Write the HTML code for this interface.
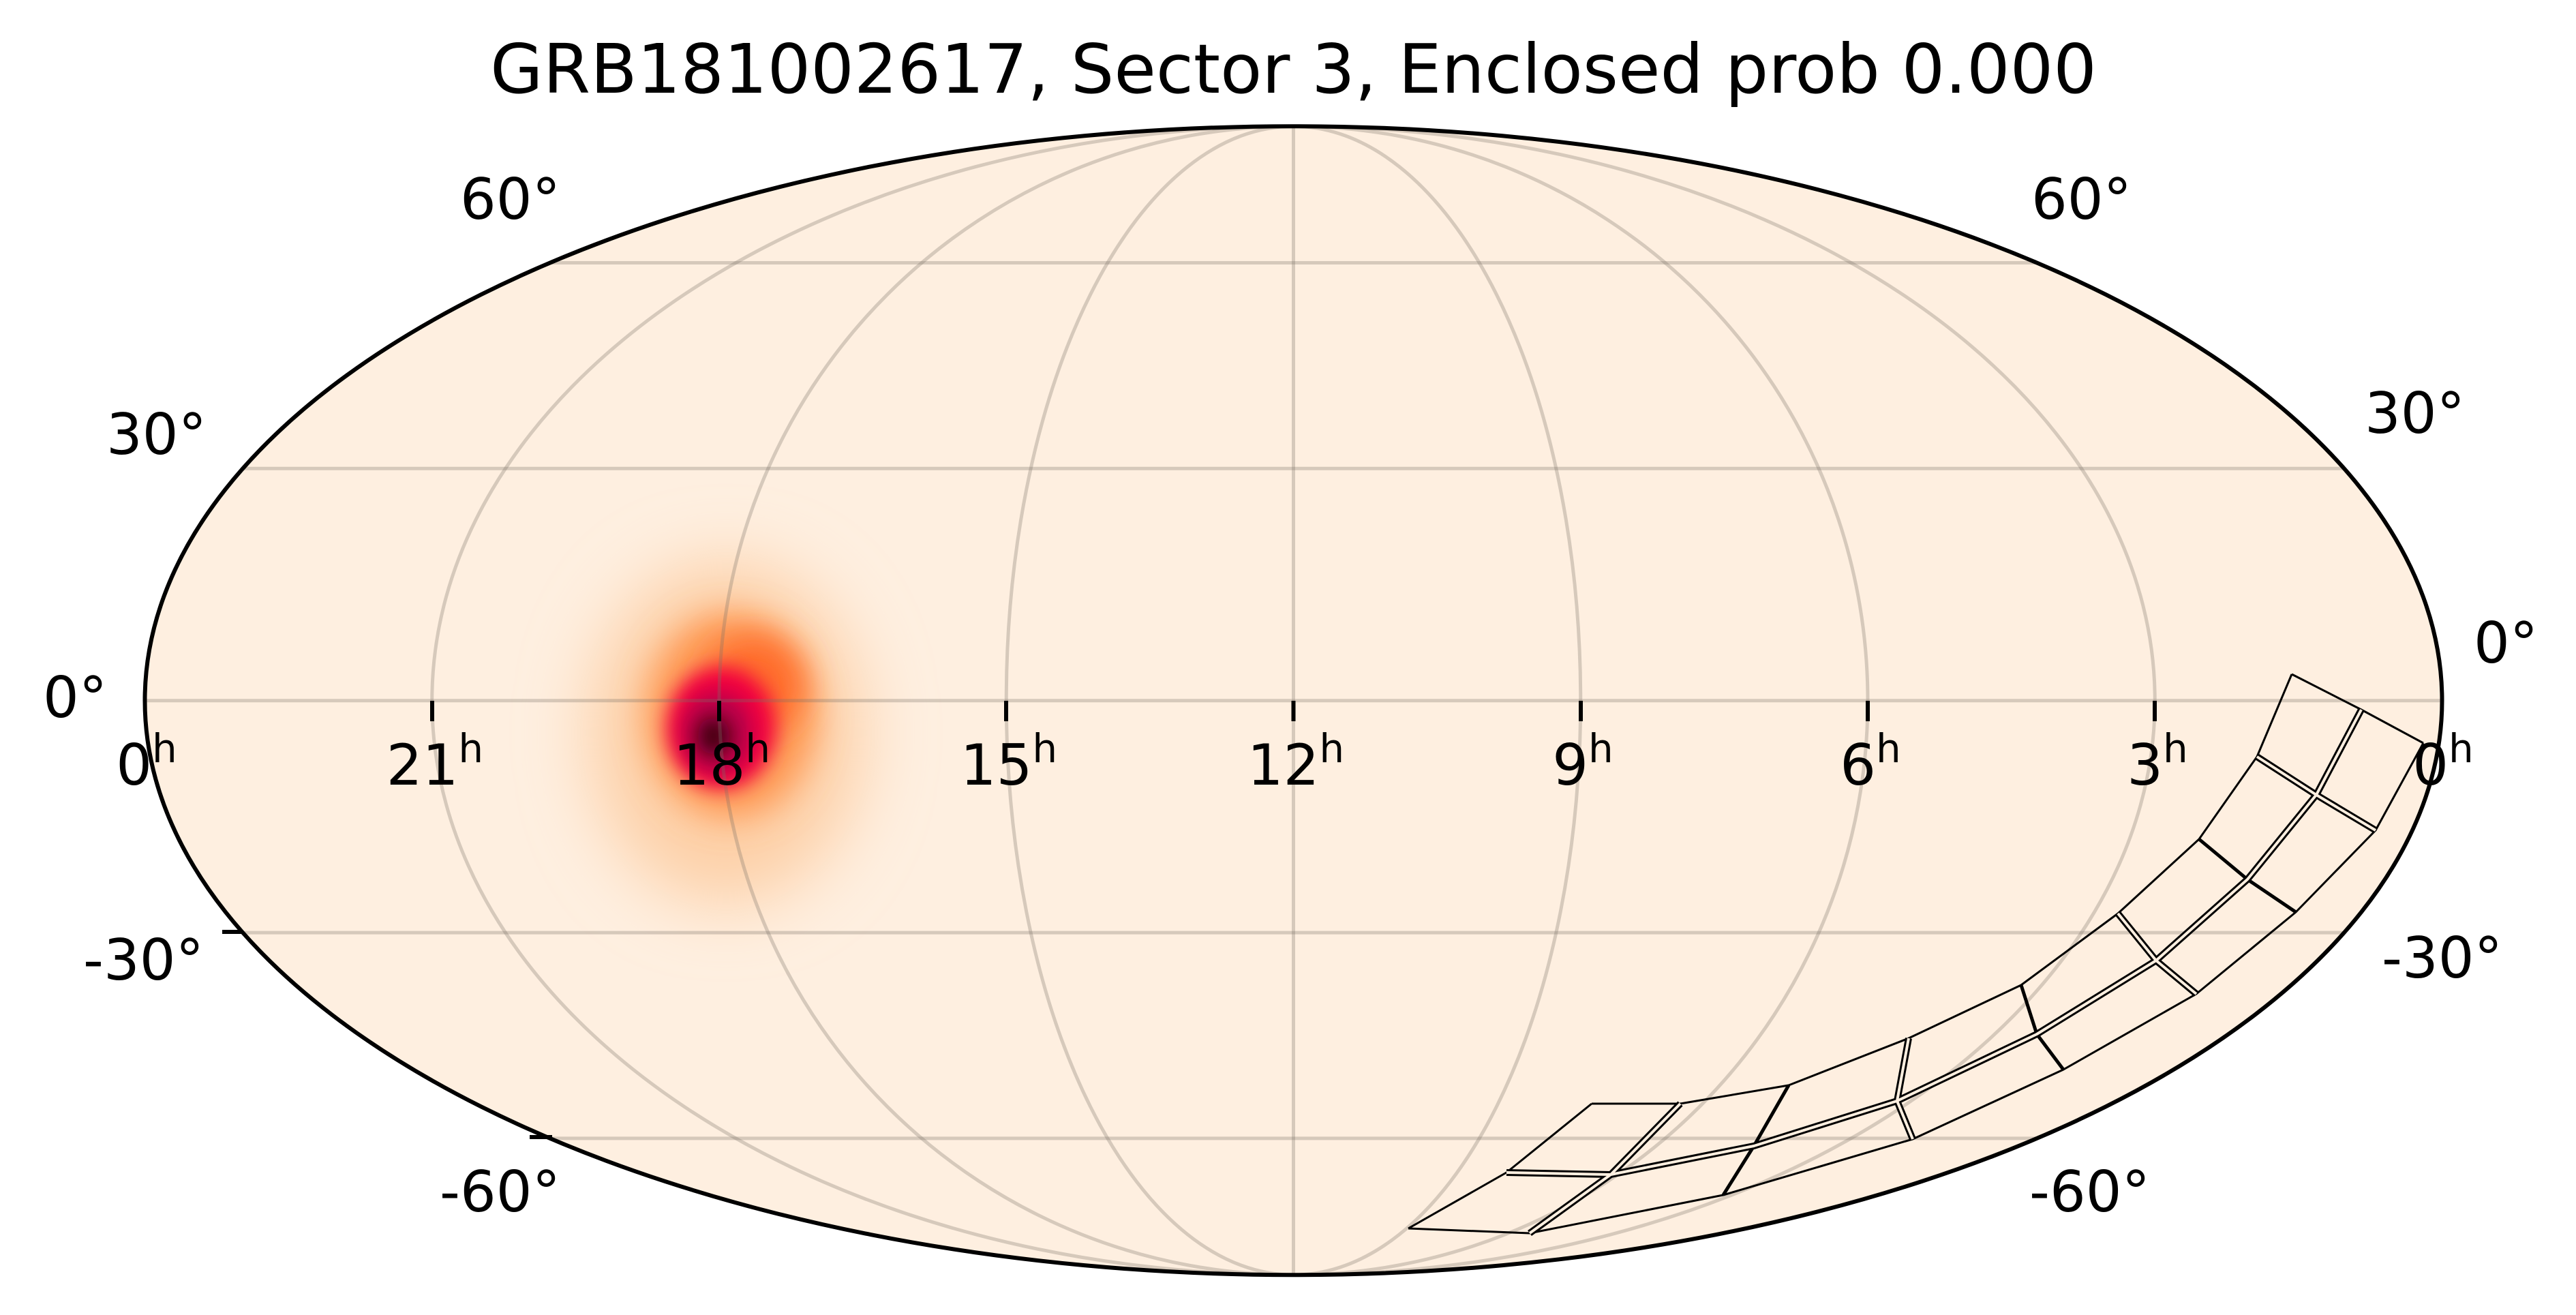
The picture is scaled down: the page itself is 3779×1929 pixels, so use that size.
<!DOCTYPE html>
<html><head><meta charset="utf-8"><style>
html,body{margin:0;padding:0;background:#fff;}
svg{display:block;}
text{font-family:"DejaVu Sans","Liberation Sans",sans-serif;fill:#000;}
</style></head><body>
<svg width="3779" height="1929" viewBox="0 0 3779 1929" xmlns="http://www.w3.org/2000/svg">
<defs>
<clipPath id="moll"><ellipse cx="1897.5" cy="1027.7" rx="1685" ry="842.5"/></clipPath>
<filter id="b1" x="-50%" y="-50%" width="200%" height="200%"><feGaussianBlur stdDeviation="50"/></filter>
<filter id="b2" x="-50%" y="-50%" width="200%" height="200%"><feGaussianBlur stdDeviation="24"/></filter>
<filter id="b3" x="-50%" y="-50%" width="200%" height="200%"><feGaussianBlur stdDeviation="14"/></filter>
</defs>
<ellipse cx="1897.5" cy="1027.7" rx="1685" ry="842.5" fill="#feefe0"/>
<g clip-path="url(#moll)">
  <ellipse cx="1065" cy="1075" rx="200" ry="250" fill="#fdcfa6" filter="url(#b1)"/>
  <ellipse cx="1072" cy="1050" rx="125" ry="150" fill="#fe9a55" filter="url(#b2)"/>
  <ellipse cx="1105" cy="1005" rx="72" ry="72" fill="#ff6a2c" filter="url(#b2)"/>
  <ellipse cx="1058" cy="1068" rx="80" ry="90" fill="#f2063f" filter="url(#b3)"/>
  <ellipse cx="1052" cy="1075" rx="52" ry="60" fill="#b8004c" filter="url(#b3)"/>
  <ellipse cx="1047" cy="1080" rx="24" ry="28" fill="#400008" filter="url(#b3)"/>
</g>
<g fill="none" stroke="#7a7068" stroke-opacity="0.3" stroke-width="5">
  <ellipse cx="1897.5" cy="1027.7" rx="421.25" ry="842.5"/>
  <ellipse cx="1897.5" cy="1027.7" rx="842.5" ry="842.5"/>
  <ellipse cx="1897.5" cy="1027.7" rx="1263.75" ry="842.5"/>
  <line x1="1897.5" y1="185" x2="1897.5" y2="1870"/>
  <line x1="212.5" y1="1027.7" x2="3582.5" y2="1027.7"/>
  <line x1="356" y1="687.3" x2="3439" y2="687.3"/>
  <line x1="356" y1="1368.1" x2="3439" y2="1368.1"/>
  <line x1="807" y1="385.5" x2="2988" y2="385.5"/>
  <line x1="807" y1="1669.9" x2="2988" y2="1669.9"/>
</g>
<!-- TESS footprint -->
<g fill="none" stroke="#000" stroke-width="3" stroke-linejoin="round">
  <polyline points="3362,989 3311,1110 3226,1231 3107,1340 2965,1445 2800,1523 2624,1592 2465,1619 2335,1619"/>
  <polyline points="3555,1090 3485,1218 3368,1338 3222,1458 3027,1569 2806,1671 2528,1753 2244,1809 2066,1802"/>
  <polyline points="3362,989 3464,1041 3555,1090"/>
  <polyline points="2335,1619 2210,1720 2066,1802"/>
  <polyline points="3226,1231 3297,1290 3368,1338" stroke-width="5"/>
  <polyline points="2965,1445 2988,1517 3027,1569" stroke-width="5"/>
  <polyline points="2624,1592 2573,1681 2528,1753" stroke-width="5"/>
</g>
<g fill="none" stroke="#000" stroke-width="10" stroke-linejoin="round">
  <polyline points="3464,1041 3398,1166 3297,1290 3163,1409 2988,1517 2783,1615 2573,1681 2363,1723 2210,1720"/>
  <polyline points="3311,1110 3398,1166 3485,1218"/>
  <polyline points="3107,1340 3163,1409 3222,1458"/>
  <polyline points="2800,1523 2783,1615 2806,1671"/>
  <polyline points="2465,1619 2363,1723 2244,1809"/>
</g>
<g fill="none" stroke="#feefe0" stroke-width="4" stroke-linejoin="round">
  <polyline points="3464,1041 3398,1166 3297,1290 3163,1409 2988,1517 2783,1615 2573,1681 2363,1723 2210,1720"/>
  <polyline points="3311,1110 3398,1166 3485,1218"/>
  <polyline points="3107,1340 3163,1409 3222,1458"/>
  <polyline points="2800,1523 2783,1615 2806,1671"/>
  <polyline points="2465,1619 2363,1723 2244,1809"/>
</g>
<ellipse cx="1897.5" cy="1027.7" rx="1685" ry="842.5" fill="none" stroke="#000" stroke-width="6"/>
<!-- ticks -->
<g stroke="#000" stroke-width="6">
  <line x1="634" y1="1028" x2="634" y2="1058"/>
  <line x1="1055" y1="1028" x2="1055" y2="1058"/>
  <line x1="1476" y1="1028" x2="1476" y2="1058"/>
  <line x1="1897.5" y1="1028" x2="1897.5" y2="1058"/>
  <line x1="2319" y1="1028" x2="2319" y2="1058"/>
  <line x1="2740" y1="1028" x2="2740" y2="1058"/>
  <line x1="3161" y1="1028" x2="3161" y2="1058"/>
  <line x1="326" y1="1367" x2="356" y2="1367"/>
  <line x1="777" y1="1668" x2="810" y2="1668"/>
</g>
<text x="1897.5" y="136" font-size="100" text-anchor="middle">GRB181002617, Sector 3, Enclosed prob 0.000</text>
<g font-size="83" text-anchor="middle">
  <text x="215" y="1151">0<tspan font-size="58" dy="-33">h</tspan></text>
  <text x="638" y="1151">21<tspan font-size="58" dy="-33">h</tspan></text>
  <text x="1059" y="1151">18<tspan font-size="58" dy="-33">h</tspan></text>
  <text x="1480" y="1151">15<tspan font-size="58" dy="-33">h</tspan></text>
  <text x="1901" y="1151">12<tspan font-size="58" dy="-33">h</tspan></text>
  <text x="2322" y="1151">9<tspan font-size="58" dy="-33">h</tspan></text>
  <text x="2744" y="1151">6<tspan font-size="58" dy="-33">h</tspan></text>
  <text x="3165" y="1151">3<tspan font-size="58" dy="-33">h</tspan></text>
  <text x="3584" y="1151">0<tspan font-size="58" dy="-33">h</tspan></text>
</g>
<g font-size="83">
  <text x="675" y="321">60°</text>
  <text x="156" y="666">30°</text>
  <text x="63" y="1052">0°</text>
  <text x="122" y="1437">-30°</text>
  <text x="645" y="1777">-60°</text>
  <text x="2980" y="321">60°</text>
  <text x="3469" y="635">30°</text>
  <text x="3629" y="972">0°</text>
  <text x="3494" y="1434">-30°</text>
  <text x="2977" y="1777">-60°</text>
</g>
</svg>
</body></html>
